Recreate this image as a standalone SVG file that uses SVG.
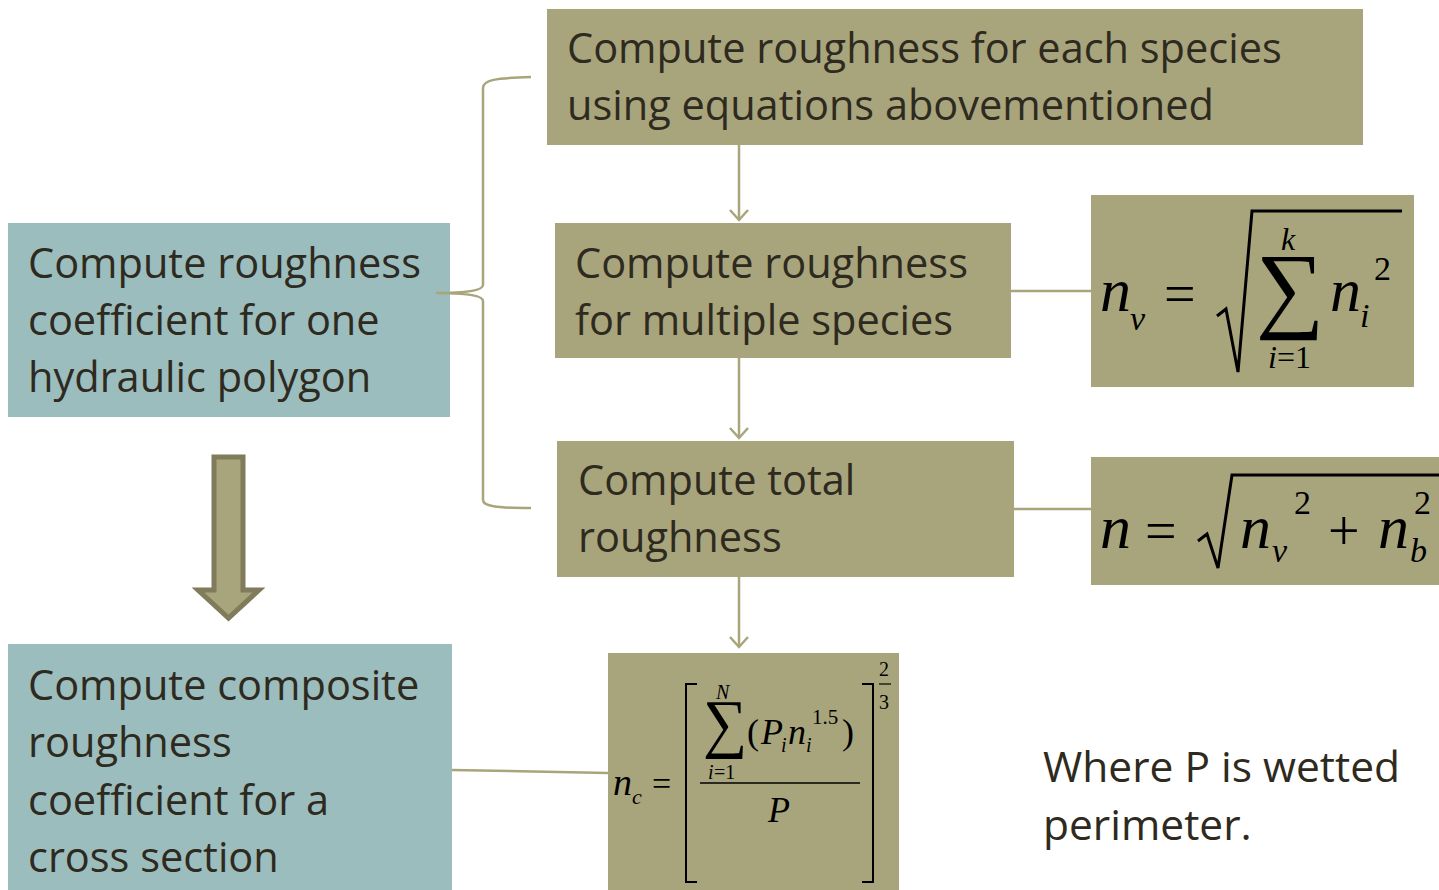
<svg xmlns="http://www.w3.org/2000/svg" width="1439" height="890" viewBox="0 0 1439 890">
<defs>
<style>
.ol{fill:#A8A57C}
.tl{fill:#9CBDBD}
.t{font-family:"Open Sans","Liberation Sans",sans-serif;font-size:41.5px;fill:#2E2A20}
.m{font-family:"Liberation Serif",serif;font-style:italic;fill:#000}
.mr{font-family:"Liberation Serif",serif;fill:#000}
.ln{stroke:#A8A57C;stroke-width:2.5;fill:none}
.bk{stroke:#000;fill:none}
</style>
<marker id="ah" viewBox="0 0 20 20" refX="18" refY="10" markerWidth="20" markerHeight="20" markerUnits="userSpaceOnUse" orient="auto">
<path d="M8,1 L18,10 L8,19" fill="none" stroke="#A8A57C" stroke-width="2.5"/>
</marker>
</defs>
<rect width="1439" height="890" fill="#fff"/>
<g id="n1">
<rect class="ol" x="547" y="9" width="816" height="136"/>
<text class="t" x="567" y="63">Compute roughness for each species</text>
<text class="t" x="567" y="120">using equations abovementioned</text>
</g>
<g id="n2">
<rect class="ol" x="555" y="223" width="456" height="135"/>
<text class="t" x="575" y="278">Compute roughness</text>
<text class="t" x="575" y="335">for multiple species</text>
</g>
<g id="n3">
<rect class="ol" x="557" y="441" width="457" height="136"/>
<text class="t" x="578" y="495">Compute total</text>
<text class="t" x="578" y="552">roughness</text>
</g>
<g id="n4">
<rect class="tl" x="8" y="223" width="442" height="194"/>
<text class="t" x="28" y="278">Compute roughness</text>
<text class="t" x="28" y="335">coefficient for one</text>
<text class="t" x="28" y="392">hydraulic polygon</text>
</g>
<g id="n5">
<rect class="tl" x="8" y="644" width="444" height="246"/>
<text class="t" x="28" y="700">Compute composite</text>
<text class="t" x="28" y="757">roughness</text>
<text class="t" x="28" y="815">coefficient for a</text>
<text class="t" x="28" y="872">cross section</text>
</g>
<g id="f1">
<rect class="ol" x="1091" y="195" width="323" height="192"/>
<text class="m" x="1100" y="311" font-size="62">n</text>
<text class="m" x="1130" y="330" font-size="34">v</text>
<text class="mr" x="1164" y="313" font-size="56">=</text>
<path class="bk" stroke-width="3" d="M1217,316 L1226,309 L1238,372 L1252,211 L1402,211"/>
<text class="mr" x="1256" y="320" font-size="96">∑</text>
<text class="m" x="1281" y="250" font-size="32">k</text>
<text class="m" x="1268" y="368" font-size="32">i</text>
<text class="mr" x="1277" y="368" font-size="32">=1</text>
<text class="m" x="1330" y="311" font-size="62">n</text>
<text class="m" x="1360" y="327" font-size="34">i</text>
<text class="mr" x="1374" y="280" font-size="34">2</text>
</g>
<g id="f2">
<rect class="ol" x="1091" y="457" width="348" height="128"/>
<text class="m" x="1100" y="548" font-size="62">n</text>
<text class="mr" x="1145" y="550" font-size="56">=</text>
<path class="bk" stroke-width="3" d="M1198,541 L1207,534 L1218,568 L1232,475 L1439,475"/>
<text class="m" x="1240" y="548" font-size="62">n</text>
<text class="m" x="1272" y="562" font-size="34">v</text>
<text class="mr" x="1294" y="514" font-size="34">2</text>
<text class="mr" x="1328" y="550" font-size="56">+</text>
<text class="m" x="1378" y="548" font-size="62">n</text>
<text class="m" x="1410" y="562" font-size="34">b</text>
<text class="mr" x="1414" y="514" font-size="34">2</text>
</g>
<g id="f3">
<rect class="ol" x="608" y="653" width="291" height="237"/>
<text class="m" x="613" y="795" font-size="38">n</text>
<text class="m" x="632" y="804" font-size="22">c</text>
<text class="mr" x="652" y="795" font-size="34">=</text>
<path class="bk" stroke-width="2" d="M697,684 L686,684 L686,882 L697,882"/>
<path class="bk" stroke-width="2" d="M862,684 L873,684 L873,882 L862,882"/>
<text class="mr" transform="translate(703,745) scale(1,1.05)" font-size="62">∑</text>
<text class="m" x="716" y="699" font-size="20">N</text>
<text class="m" x="708" y="779" font-size="20">i</text>
<text class="mr" x="714" y="779" font-size="20">=1</text>
<text class="mr" x="747" y="744" font-size="36">(</text>
<text class="m" x="761" y="744" font-size="36">P</text>
<text class="m" x="781" y="752" font-size="20">i</text>
<text class="m" x="788" y="744" font-size="36">n</text>
<text class="m" x="806" y="752" font-size="20">i</text>
<text class="mr" x="812" y="724" font-size="21">1.5</text>
<text class="mr" x="842" y="744" font-size="36">)</text>
<line class="bk" stroke-width="1.5" x1="700" y1="783" x2="860" y2="783"/>
<text class="m" x="768" y="822" font-size="36">P</text>
<text class="mr" x="879" y="676" font-size="20">2</text>
<line class="bk" stroke-width="1.2" x1="879" y1="684" x2="891" y2="684"/>
<text class="mr" x="879" y="709" font-size="20">3</text>
</g>
<g id="note">
<text class="t" x="1043" y="782" style="font-size:42.5px">Where P is wetted</text>
<text class="t" x="1043" y="840" style="font-size:42.5px">perimeter.</text>
</g>
<g id="connectors">
<path class="ln" d="M531,77 C495,78 483,80 483,88 L483,285 C483,290 470,293 436,293 C470,293 483,296 483,301 L483,500 C483,506 495,508 531,508"/>
<line class="ln" x1="739" y1="145" x2="739" y2="220" marker-end="url(#ah)"/>
<line class="ln" x1="739" y1="358" x2="739" y2="438" marker-end="url(#ah)"/>
<line class="ln" x1="739" y1="577" x2="739" y2="647" marker-end="url(#ah)"/>
<line class="ln" x1="1011" y1="291" x2="1091" y2="291"/>
<line class="ln" x1="1014" y1="509" x2="1091" y2="509"/>
<line class="ln" x1="452" y1="770" x2="608" y2="773"/>
<path d="M214,457 L243,457 L243,590 L259,590 L228.5,618 L198,590 L214,590 Z" fill="#A8A57C" stroke="#7F7B5B" stroke-width="5" stroke-linejoin="miter"/>
</g>
</svg>
